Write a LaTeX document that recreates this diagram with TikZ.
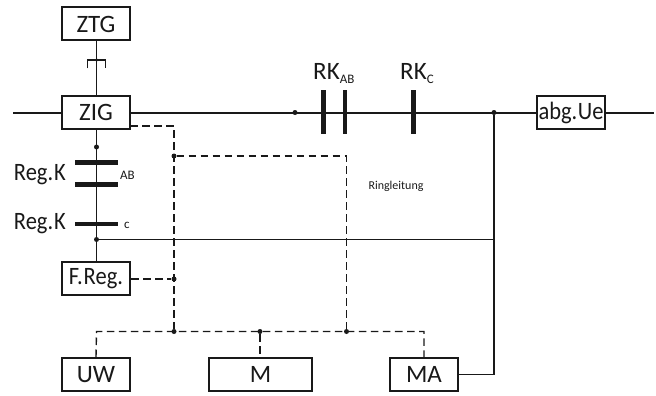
\documentclass[tikz,border=0pt]{standalone}
\usepackage{fontspec}
\setmainfont{Carlito}
\newcommand{\txtbig}{\fontsize{25}{25}\selectfont}
\newcommand{\txtsub}{\fontsize{13}{13}\selectfont}
\newcommand{\txtsmall}{\fontsize{12}{12}\selectfont}
\newcommand{\narrowtxt}[1]{\scalebox{0.9}[1]{#1}}
\definecolor{ink}{gray}{0.1}
\tikzset{
  blockbox/.style={draw=ink,line width=2pt,fill=white,inner sep=0pt,minimum height=33pt,text=ink,font=\txtbig},
  mainline/.style={draw=ink,line width=2pt},
  stemline/.style={draw=ink,line width=1.5pt},
  thinline/.style={draw=ink,line width=1.1pt},
  dashline/.style={draw=ink,line width=1.4pt,dash pattern=on 7.5pt off 4.5pt},
  platebar/.style={draw=ink,line width=4.8pt},
  junction/.style={circle,fill=ink,inner sep=0pt,minimum size=5pt},
  lbl/.style={inner sep=0pt,text=ink,font=\txtbig},
  sublbl/.style={inner sep=0pt,text=ink,font=\txtsub}
}
\begin{document}
\begin{tikzpicture}[x=1pt,y=-1pt]
\useasboundingbox (0,0) rectangle (656,396);
% blocks
\node[blockbox,minimum width=68pt] (ztg) at (96,24) {ZTG};
\node[blockbox,minimum width=68pt] (zig) at (96,112.5) {ZIG};
\node[blockbox,minimum width=68pt] (freg) at (96,278.5) {\narrowtxt{F.\hspace{1pt}Reg.}};
\node[blockbox,minimum width=68pt] (uw) at (96,374.5) {UW};
\node[blockbox,minimum width=103pt] (m) at (260.5,374.5) {M};
\node[blockbox,minimum width=68pt] (ma) at (424,374.5) {MA};
\node[blockbox,minimum width=68pt] (abg) at (571,112.5) {\narrowtxt{abg.\hspace{0.5pt}Ue}};
% free ends and corners
\coordinate (wl) at (13,112.5);
\coordinate (er) at (654,112.5);
\coordinate (sockdot) at (96.5,60);
\node[junction,minimum size=3.5pt] (sock) at (sockdot) {};
\node[junction] (jz) at (96.5,147) {};
\node[junction] (jc) at (96.5,239.5) {};
\node[junction] (j1) at (295,112.5) {};
\node[junction] (j2) at (494,112.5) {};
\node[junction] (jd1) at (174,156) {};
\node[junction] (jd2) at (174,279) {};
\node[junction] (jd3) at (174,331.5) {};
\node[junction] (jd4) at (260,331.5) {};
\node[junction] (jd5) at (346.5,331.5) {};
% main lines
\draw[mainline] (wl) -- (zig.west);
\draw[mainline] (zig.east) -- (abg.west);
\draw[mainline] (abg.east) -- (er);
\draw[thinline] (ztg.south -| sockdot) -- (zig.north -| sockdot);
\draw[stemline] (zig.south -| jz) -- (freg.north -| jz);
% socket
\draw[thinline] (87.5,68.5) -- (87.5,60) -- (105.5,60) -- (105.5,68.5);
% contactor plates
\draw[platebar] (75,162.5) -- (118,162.5);
\draw[platebar] (75,184.5) -- (118,184.5);
\draw[platebar] (75,224) -- (118,224);
\draw[platebar] (323.5,90) -- (323.5,134);
\draw[platebar] (345,90) -- (345,134);
\draw[platebar] (413.5,90) -- (413.5,134);
% thin ring line
\draw[thinline] (jc) -- (493.5,239.5);
\draw[thinline] (j2) -- (j2 |- ma.east) -- (ma.east);
% dashed lines
\draw[dashline] (130,126) -- (174,126) -- (jd3);
\draw[dashline] (jd1) -- (jd1 -| jd5) -- (jd5);
\draw[dashline] (freg.east |- jd2) -- (jd2);
\draw[dashline] (uw.north) -- (96.5,331.5) -- (424,331.5) -- (ma.north);
\draw[dashline] (jd4) -- (m.north -| jd4);
% labels
\node[lbl,anchor=east] (regab) at (66,175) {\narrowtxt{Reg.\hspace{1pt}K}};
\node[lbl,anchor=east] (regc) at (66,224) {\narrowtxt{Reg.\hspace{1pt}K}};
\node[sublbl,anchor=west] (ab) at (120,175) {AB};
\node[sublbl,anchor=west] (c) at (124,225) {c};
\node[lbl,anchor=base west] (rkab) at (313,80) {RK\raisebox{-4pt}{\txtsub AB}};
\node[lbl,anchor=base west] (rkc) at (400,80) {RK\raisebox{-4pt}{\txtsub C}};
\node[inner sep=0pt,text=ink,font=\txtsmall] (ring) at (396,186) {Ringleitung};
\end{tikzpicture}
\end{document}
